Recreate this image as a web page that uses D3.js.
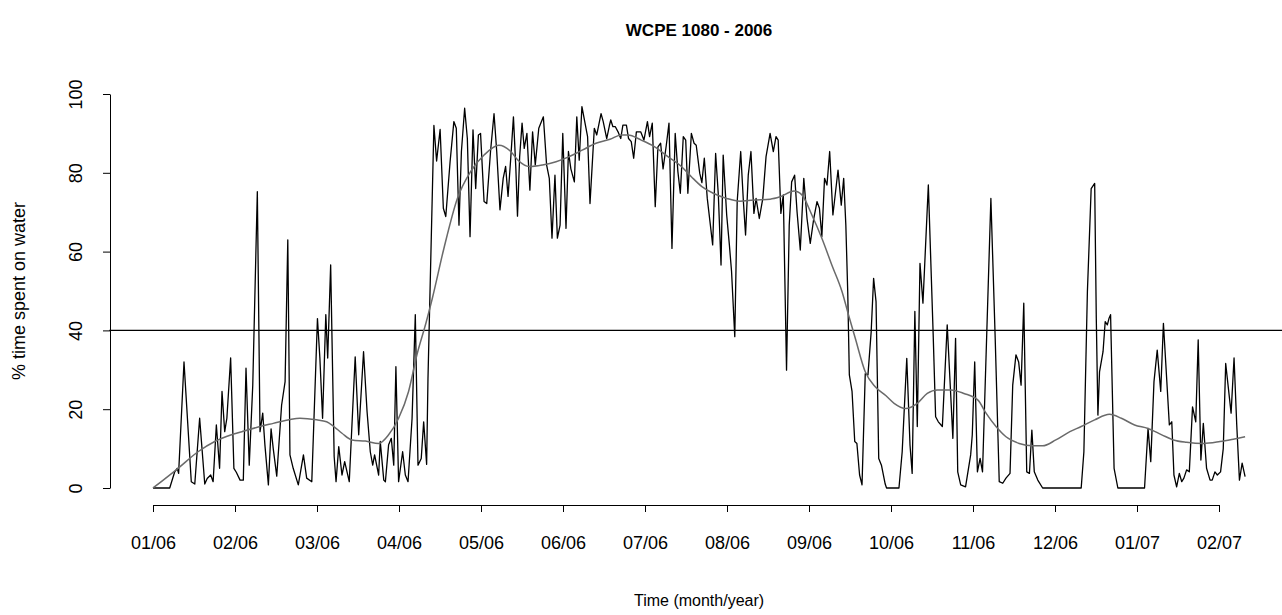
<!DOCTYPE html>
<html>
<head>
<meta charset="utf-8">
<script src="https://cdn.jsdelivr.net/npm/d3@7"></script>
<style>
  body { margin: 0; background: #fff; }
  text { font-family: "Liberation Sans", Arial, Helvetica, sans-serif; }
</style>
</head>
<body>
<div class="chart"></div>
<script>
// tick labels (one tick every 365/12 days)
const monthLabels = ["01/06", "02/06", "03/06", "04/06", "05/06", "06/06", "07/06",
  "08/06", "09/06", "10/06", "11/06", "12/06", "01/07", "02/07"];
const yTicks = [0, 20, 40, 60, 80, 100];
const threshold = 40;

// raw series: day since 01/01/2006 and % time on water
const rawDays = [0, 6.2, 8.0, 9.0, 9.5, 11.5, 14.2, 15.5, 17.3, 19.2, 20.1, 21.4, 22.3, 23.5, 24.7, 25.6, 26.6, 27.4, 28.8, 30.0,
  30.9, 32.3, 33.5, 34.5, 35.7, 37.0, 38.7, 39.7, 40.7, 41.5, 42.8, 43.8, 44.6, 45.9, 47.7, 49.0, 50.0, 50.8, 52.0, 53.9,
  55.8, 57.0, 58.9, 61.0, 61.9, 62.9, 64.1, 64.8, 65.9, 67.2, 67.9, 68.9, 70.1, 71.1, 72.8, 75.0, 76.3, 78.1, 79.4, 80.6,
  81.5, 82.2, 83.7, 84.3, 85.6, 86.2, 87.4, 88.4, 89.3, 90.1, 91.1, 92.6, 93.6, 94.6, 96.1, 97.3, 98.3, 99.5, 100.4, 101.5,
  102.0, 104.2, 105.2, 106.5, 107.7, 108.6, 110.2, 111.6, 112.5, 113.5, 114.4, 115.6, 116.6, 117.6, 118.7, 119.7, 120.7, 121.5, 122.8, 123.8,
  125.2, 126.5, 127.5, 128.7, 129.9, 130.8, 131.7, 132.7, 133.7, 134.6, 135.2, 136.0, 136.9, 137.7, 138.7, 139.8, 140.8, 141.8, 143.1, 144.8,
  146.0, 147.0, 148.0, 149.1, 150.0, 151.0, 152.0, 153.2, 154.1, 155.0, 156.3, 157.2, 158.1, 159.1, 161.2, 162.1, 163.7, 164.6, 166.2, 167.0,
  168.3, 169.3, 169.8, 170.6, 171.5, 172.5, 173.5, 174.3, 175.6, 176.4, 177.4, 178.3, 179.3, 180.9, 182.1, 183.4, 184.2, 185.2, 186.3, 187.3,
  188.3, 189.2, 190.4, 191.4, 192.5, 193.7, 194.7, 195.6, 196.7, 197.6, 198.4, 199.7, 200.7, 201.5, 202.8, 203.6, 204.5, 205.6, 206.6, 207.6,
  208.7, 209.7, 210.7, 211.5, 212.8, 213.8, 214.6, 215.8, 216.7, 218.0, 219.0, 219.8, 220.8, 221.8, 222.9, 223.7, 224.9, 226.2, 227.4, 228.9,
  230.1, 231.1, 231.9, 232.9, 233.8, 235.0, 236.0, 236.9, 238.0, 238.9, 240.1, 241.4, 242.6, 243.8, 245.1, 246.3, 247.2, 248.1, 249.1, 250.0,
  251.0, 252.2, 254.1, 255.3, 256.2, 257.0, 257.7, 258.3, 259.3, 260.3, 261.1, 262.1, 263.0, 264.2, 265.2, 266.4, 267.3, 268.2, 269.2, 270.2,
  271.6, 272.1, 276.7, 277.9, 279.6, 280.8, 281.6, 282.6, 283.5, 284.5, 285.6, 287.6, 289.4, 290.3, 291.3, 292.8, 294.6, 295.6, 296.7, 297.7,
  298.5, 299.6, 301.4, 303.3, 303.9, 304.8, 305.8, 306.8, 307.7, 310.8, 312.4, 313.9, 315.2, 316.4, 317.9, 318.9, 320.1, 321.1, 322.0, 323.0,
  324.1, 325.1, 326.0, 326.9, 328.2, 330.0, 344.3, 345.3, 346.6, 348.0, 349.3, 349.9, 350.5, 351.1, 352.4, 353.2, 354.0, 354.6, 355.2, 356.5,
  357.9, 367.8, 369.1, 370.1, 371.3, 372.5, 373.8, 374.8, 376.0, 377.0, 377.9, 378.7, 379.7, 380.7, 381.6, 382.4, 383.4, 384.4, 385.6, 386.8,
  387.7, 388.7, 389.6, 390.8, 392.1, 392.9, 393.9, 394.8, 396.0, 397.0, 397.9, 399.9, 401.0, 402.0, 403.0, 404.0, 405.1];
const rawPct = [0, 0, 4, 5, 3.7, 32, 1.6, 1, 17.7, 1, 2.4, 3.3, 1.6, 16, 5, 24.5, 14.3, 17.7, 33, 5,
  4, 2, 2, 30.4, 5.8, 26, 75.2, 14.3, 19, 11, 0.8, 15, 10, 3, 21, 27, 63, 8.4, 5, 0.8,
  8.4, 2.5, 1.6, 43, 33, 17.7, 44, 33, 56.6, 8, 1.6, 10.5, 3.3, 6.7, 1.6, 33.3, 13.5, 34.6, 19.4, 9.2,
  5.8, 8.4, 3.3, 11.8, 2, 1.6, 11, 12.6, 5.8, 30.8, 1.6, 9.2, 3.3, 1.6, 17.7, 44, 5.8, 7.5, 16.8, 6,
  27.8, 92, 83, 91, 71, 68.9, 82.8, 93, 91.3, 66.7, 85.4, 96.4, 88.7, 63.8, 90.9, 76, 89.6, 90, 72.7, 72.2,
  85.4, 95, 85.4, 70.6, 78.6, 81.6, 74, 83.7, 94.2, 81, 69, 84, 92.6, 86.2, 90, 75.6, 90.4, 82, 91.3, 94.2,
  82, 78.6, 63.4, 79.4, 63.4, 66.7, 90, 65.9, 85.4, 81, 77.7, 94.2, 83.2, 96.8, 89.2, 72.2, 91.3, 89.6, 95, 93,
  88.7, 92, 93.4, 91.7, 91.7, 90.4, 88.7, 92.1, 92.1, 88.7, 87.9, 83.7, 90.4, 90.4, 88.3, 93, 89.2, 92.6, 71.4, 86.6,
  87.5, 81, 87, 92.6, 60.8, 90, 80.3, 74.8, 89.2, 88.3, 74.8, 90, 87.5, 87, 79.9, 77.5, 83.7, 73.5, 67.6, 61.7,
  84.9, 74.4, 56.6, 84.5, 69.3, 61.7, 55, 38.4, 72.7, 85.4, 72.7, 64.2, 79.4, 85.4, 69.7, 73.5, 68.4, 73.5, 84.1, 90,
  85.4, 89.2, 88.3, 69.7, 74.4, 29.9, 66.7, 77.7, 79.4, 70.1, 60.4, 78.6, 68.4, 62.1, 68.4, 72.7, 71, 63.8, 78.6, 76.9,
  85.4, 69.3, 80.7, 71.8, 78.6, 66.7, 49.8, 28.7, 24.5, 11.8, 11.3, 3.3, 0.8, 29, 28.7, 39.7, 53.2, 47.3, 7.5, 5.8,
  1, 0, 0, 9.2, 32.9, 10.9, 3.7, 44.8, 15.6, 57, 46.9, 76.9, 38.8, 18.1, 16.8, 15.6, 41.4, 27.8, 12.6, 38,
  4.1, 0.8, 0.3, 8.4, 13.5, 32, 4.1, 7.5, 4.1, 73.5, 38, 1.6, 1.2, 2.5, 3.7, 26.1, 33.8, 32, 26.1, 46.9,
  4.1, 3.7, 14.7, 4.1, 2, 0, 0, 9.2, 49.8, 76, 77.3, 43, 18.5, 29.5, 34.6, 42.2, 41.4, 43, 44, 5,
  0, 0, 15.1, 6.7, 27, 35, 24.5, 41.8, 27.8, 16, 16.8, 3.3, 0.3, 3.7, 1.6, 2.5, 4.6, 4.1, 20.6, 16.8,
  37.6, 7.1, 16.4, 5, 2, 2, 4.1, 3.3, 4.1, 10, 31.6, 19, 33, 16, 2, 6.3, 2.9];

// smoothed trend
const smoothDays = [0, 9.3, 16.7, 22.9, 29.1, 33, 39.7, 44.6, 50.8, 54.5, 60.7, 64.4, 67.1, 70.1, 73.8, 78.8, 83.7, 87.4, 91.1, 94.8,
  97.9, 101.3, 103.6, 107.9, 112.9, 117.8, 122.8, 128.3, 132.7, 135.4, 139.6, 144.5, 149.5, 154.4, 159.4, 164.3, 169.5, 173.7, 176.2, 181.1,
  186.1, 191.0, 196.0, 199.7, 203.6, 207.8, 212.8, 217.7, 222.7, 228.9, 232.6, 237.8, 240.7, 244.4, 248.1, 251.8, 255.6, 258.0, 260.5, 264.2,
  267.9, 271.9, 274.9, 279.2, 283.5, 287.2, 290.9, 295.9, 300.8, 306, 309, 312.7, 316.4, 321.3, 326.3, 330, 334.9, 340.1, 344.3, 349.3,
  354.8, 359.2, 364.1, 369.1, 374.2, 378.5, 383.4, 389.6, 395.8, 400.7, 405.1];
const smoothPct = [0, 5, 9.2, 11.8, 13.5, 14.3, 15.6, 16.4, 17.4, 17.7, 17.3, 16.8, 15.6, 13.9, 12.2, 11.9, 11.3, 13.5, 17.7, 24.5,
  33.8, 42, 48.1, 60.8, 73.5, 80.3, 84.5, 87, 85.4, 83.2, 81.6, 82, 82.8, 84.1, 85.8, 87.5, 88.5, 89.6, 89.6, 88.3,
  86.6, 84.1, 81.6, 79, 76.5, 74.8, 73.5, 72.8, 73.1, 73.3, 73.9, 75.4, 74.4, 69.3, 63.4, 56.6, 49.8, 43.9, 38, 29.5,
  25.7, 23.4, 21.5, 20.2, 21.5, 24, 24.9, 24.9, 24, 22.3, 19, 15.6, 13, 11.3, 10.7, 10.7, 12.2, 14.3, 15.6, 17.3,
  18.7, 17.7, 16, 15.1, 13.5, 12.2, 11.6, 11.3, 11.8, 12.4, 13];

const W = 1282, H = 615;
const tickStep = 365 / 12;

const svg = d3.select(".chart").append("svg")
  .attr("width", W)
  .attr("height", H);

const x = d3.scaleLinear()
  .domain([0, 13 * tickStep])
  .range([153, 1219]);

const y = d3.scaleLinear()
  .domain([0, 100])
  .range([488, 94]);

const plotLeft = x(-0.04 * 405.1), plotRight = x(405.1 * 1.04);

// x axis
const xAxis = svg.append("g")
  .attr("transform", "translate(0,505)")
  .call(d3.axisBottom(x)
    .tickValues(monthLabels.map((d, i) => i * tickStep))
    .tickFormat((d, i) => monthLabels[i])
    .tickSize(7)
    .tickSizeOuter(0));
xAxis.selectAll("text")
  .attr("y", 31)
  .attr("font-size", 18)
  .attr("fill", "#000");

// y axis
const yAxis = svg.append("g")
  .attr("transform", "translate(110,0)")
  .call(d3.axisLeft(y)
    .tickValues(yTicks)
    .tickSize(7)
    .tickSizeOuter(0));
yAxis.selectAll("text")
  .attr("transform", "rotate(-90)")
  .attr("x", 0)
  .attr("y", -28)
  .attr("dy", 0)
  .attr("text-anchor", "middle")
  .attr("font-size", 18)
  .attr("fill", "#000");

svg.selectAll(".domain, .tick line").attr("stroke", "#000").attr("stroke-width", 1);

// threshold line
svg.append("line")
  .attr("x1", plotLeft)
  .attr("x2", plotRight)
  .attr("y1", y(threshold))
  .attr("y2", y(threshold))
  .attr("stroke", "#000")
  .attr("stroke-width", 1.1);

const raw = rawDays.map((d, i) => [d, rawPct[i]]);
const smooth = smoothDays.map((d, i) => [d, smoothPct[i]]);

svg.append("path")
  .datum(raw)
  .attr("fill", "none")
  .attr("stroke", "#000")
  .attr("stroke-width", 1.3)
  .attr("stroke-linejoin", "round")
  .attr("d", d3.line().x(d => x(d[0])).y(d => y(d[1])));

svg.append("path")
  .datum(smooth)
  .attr("fill", "none")
  .attr("stroke", "#6a6a6a")
  .attr("stroke-width", 1.5)
  .attr("d", d3.line().curve(d3.curveMonotoneX).x(d => x(d[0])).y(d => y(d[1])));

// titles
const cx = (plotLeft + plotRight) / 2;
svg.append("text")
  .attr("x", cx)
  .attr("y", 36)
  .attr("text-anchor", "middle")
  .attr("font-size", 17)
  .attr("font-weight", "bold")
  .text("WCPE 1080 - 2006");

svg.append("text")
  .attr("x", cx)
  .attr("y", 606)
  .attr("text-anchor", "middle")
  .attr("font-size", 16)
  .text("Time (month/year)");

svg.append("text")
  .attr("transform", "translate(25," + ((94 + 488) / 2) + ") rotate(-90)")
  .attr("text-anchor", "middle")
  .attr("font-size", 18)
  .text("% time spent on water");
</script>
</body>
</html>
